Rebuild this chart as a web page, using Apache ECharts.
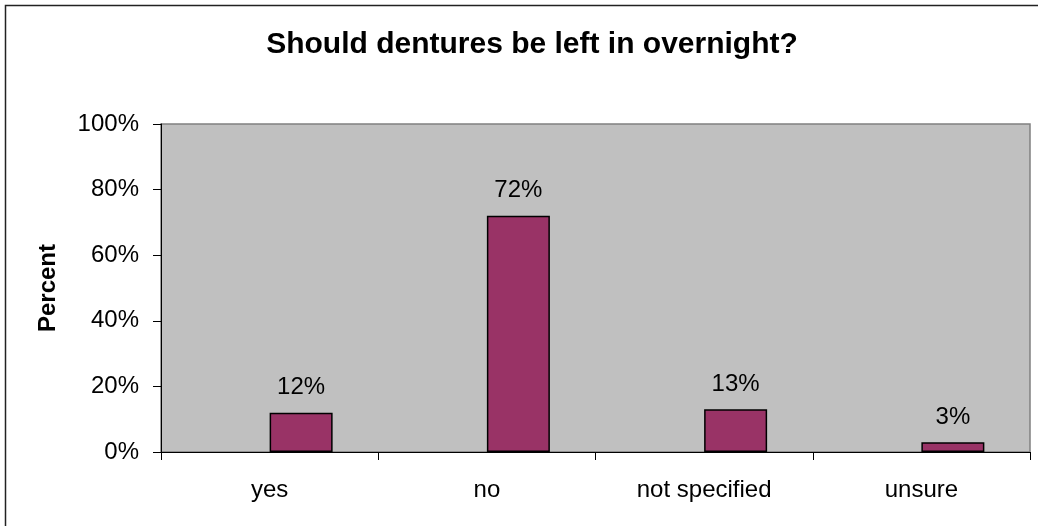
<!DOCTYPE html>
<html>
<head>
<meta charset="utf-8">
<script src="https://cdn.jsdelivr.net/npm/echarts@6/dist/echarts.min.js"></script>
<style>
html,body{margin:0;padding:0;background:#fff;}
#chart{width:1038px;height:526px;}
</style>
</head>
<body>
<div id="chart"></div>
<script>
var categories = ['yes', 'no', 'not specified', 'unsure'];
var percentValues = [12, 72, 13, 3];
var yTicks = [0, 20, 40, 60, 80, 100];

var chart = echarts.init(document.getElementById('chart'));
var FONT = '"Liberation Sans", Arial, sans-serif';
chart.setOption({
  backgroundColor: '#ffffff',
  animation: false,
  graphic: [{
    type: 'rect',
    shape: { x: 5.5, y: 5.5, width: 1060, height: 560 },
    style: { fill: 'none', stroke: '#222', lineWidth: 1.5 },
    silent: true
  }],
  title: {
    text: 'Should dentures be left in overnight?',
    left: 527,
    textAlign: 'center',
    top: 25,
    textStyle: { fontFamily: FONT, fontSize: 30, fontWeight: 'bold', color: '#000' }
  },
  grid: {
    left: 161, right: 8, top: 124, bottom: 74,
    show: true, backgroundColor: '#C0C0C0', borderColor: '#808080', borderWidth: 1.5
  },
  xAxis: {
    type: 'category',
    data: categories,
    axisLine: { lineStyle: { color: '#000', width: 1 } },
    axisTick: { show: true, length: 8, alignWithLabel: false, lineStyle: { color: '#000' } },
    axisLabel: { fontFamily: FONT, fontSize: 24, color: '#000', margin: 26 }
  },
  yAxis: {
    type: 'value',
    min: yTicks[0], max: yTicks[yTicks.length - 1], interval: 20,
    name: 'Percent',
    nameLocation: 'middle',
    nameGap: 101,
    nameTextStyle: { fontFamily: FONT, fontSize: 24, fontWeight: 'bold', color: '#000' },
    axisLine: { show: true, lineStyle: { color: '#000', width: 1 } },
    axisTick: { show: true, length: 8, lineStyle: { color: '#000' } },
    splitLine: { show: false },
    axisLabel: { fontFamily: FONT, fontSize: 24, color: '#000', margin: 22, formatter: '{value}%' }
  },
  series: [
    { type: 'bar', name: 'placeholder', data: [], barWidth: 63, barGap: '0%' },
    {
      type: 'bar', name: 'Percent', data: percentValues, barWidth: 63, barGap: '0%',
      itemStyle: { color: '#993366', borderColor: '#000', borderWidth: 1.5 },
      label: {
        show: true, position: 'top', distance: 13, formatter: '{c}%',
        fontFamily: FONT, fontSize: 24, color: '#000'
      }
    }
  ]
});
</script>
</body>
</html>
